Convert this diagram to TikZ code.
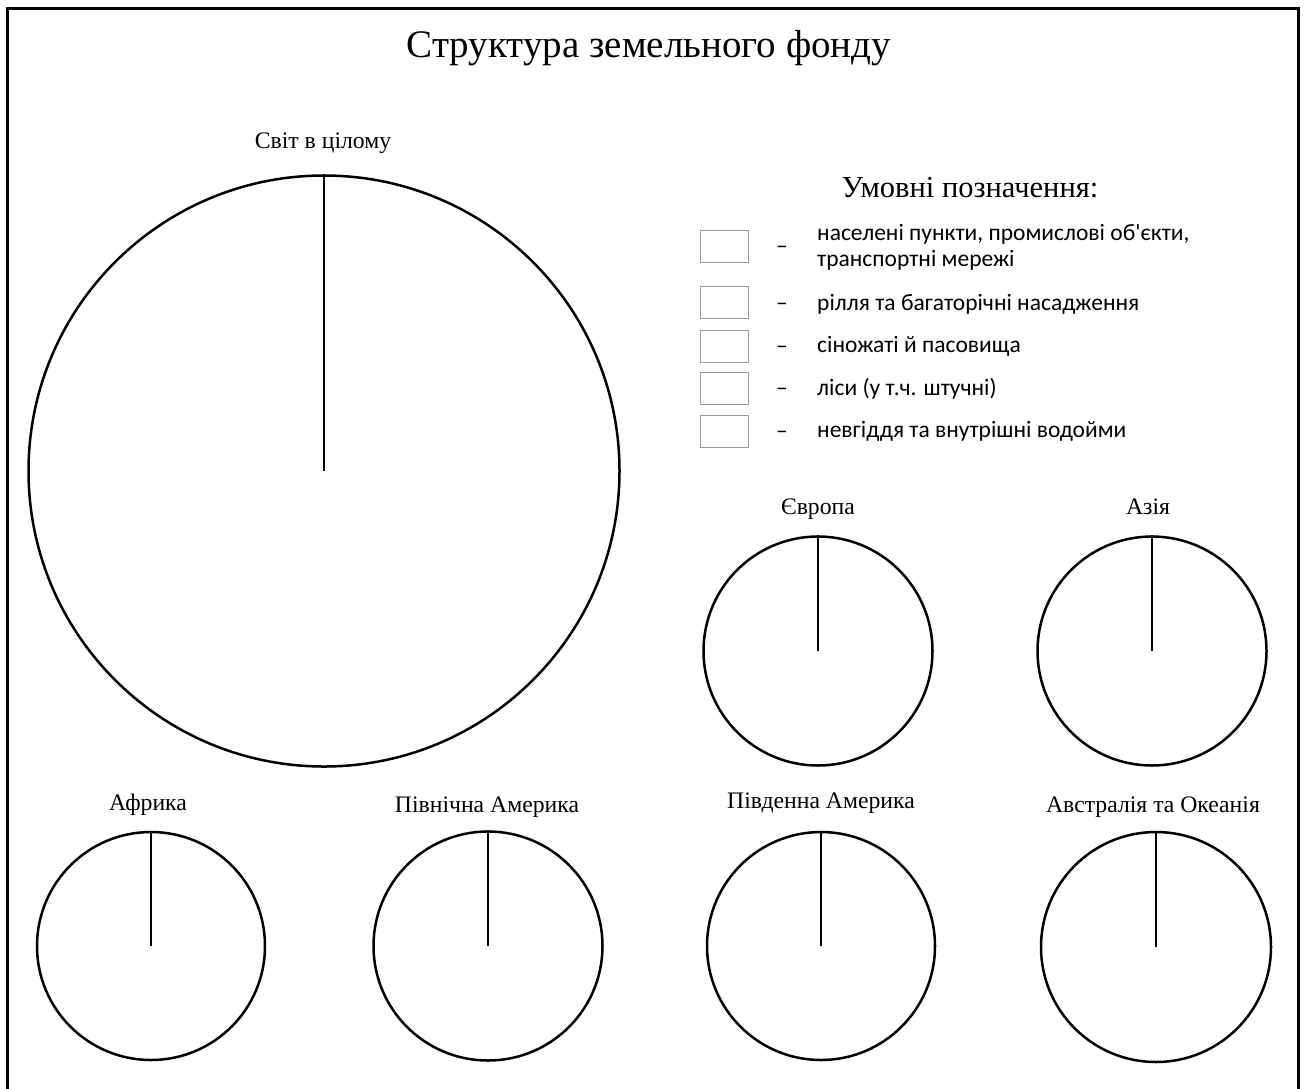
\documentclass[tikz,border=0pt]{standalone}
\usepackage{fontspec}
\setmainfont{Liberation Serif}
\newfontfamily\legfont{Carlito}
\begin{document}
\begin{tikzpicture}[x=1pt,y=-1pt,
  pie/.style={circle,draw,line width=2.5pt,inner sep=0pt,minimum size=#1},
  radius line/.style={line width=2.5pt},
  lab/.style={anchor=base,inner sep=0pt,font=\fontsize{23.7}{26}\selectfont},
  legbox/.style={draw=black!40,line width=1pt,minimum width=48pt,minimum height=32pt,inner sep=0pt},
  legdash/.style={anchor=base,inner sep=0pt,font=\legfont\fontsize{23.5}{26}\selectfont},
  legtext/.style={anchor=base west,inner sep=0pt,font=\legfont\fontsize{23.5}{26}\selectfont}]
\useasboundingbox (0,0) rectangle (1305,1088);
\clip (0,0) rectangle (1305,1088);
\draw[line width=3pt] (7,1100) -- (7,8) -- (1298,8) -- (1298,1100);
% title
\node[anchor=base,inner sep=0pt,font=\fontsize{39}{42}\selectfont] (title) at (649,57) {Структура земельного фонду};
% world
\node[pie=591pt] (world) at (324,471) {};
\draw[radius line] (world.center) -- (world.north);
\node[lab] (worldlab) at (323,148) {Світ в цілому};
% legend
\node[anchor=base,inner sep=0pt,font=\fontsize{30.5}{33}\selectfont] (legtitle) at (970,197) {Умовні позначення:};
\node[legbox] (b1) at (724,246.5) {};
\node[legbox] (b2) at (724,302) {};
\node[legbox] (b3) at (724,346) {};
\node[legbox] (b4) at (724,388.5) {};
\node[legbox] (b5) at (724,431) {};
\node[legdash] (d1) at (782,253) {–};
\node[legdash] (d2) at (782,310) {–};
\node[legdash] (d3) at (782,353) {–};
\node[legdash] (d4) at (782,395) {–};
\node[legdash] (d5) at (782,438) {–};
\node[legtext] (t1a) at (817,240) {населені пункти, промислові об'єкти,};
\node[legtext] (t1b) at (817,266) {транспортні мережі};
\node[legtext] (t2) at (817,310) {рілля та багаторічні насадження};
\node[legtext] (t3) at (817,352) {сіножаті й пасовища};
\node[legtext] (t4) at (817,395) {ліси (у т.ч. штучні)};
\node[legtext] (t5) at (817,437) {невгіддя та внутрішні водойми};
% Europe, Asia
\node[pie=229pt] (eu) at (818,651) {};
\draw[radius line] (eu.center) -- (eu.north);
\node[lab] (eulab) at (818,514) {Європа};
\node[pie=229pt] (as) at (1152,651) {};
\draw[radius line] (as.center) -- (as.north);
\node[lab] (aslab) at (1148,514) {Азія};
% bottom row
\node[pie=228pt] (af) at (151,946) {};
\draw[radius line] (af.center) -- (af.north);
\node[lab] (aflab) at (148,810) {Африка};
\node[pie=229pt] (na) at (488,946) {};
\draw[radius line] (na.center) -- (na.north);
\node[lab] (nalab) at (487,812) {Північна Америка};
\node[pie=228pt] (sa) at (821,946) {};
\draw[radius line] (sa.center) -- (sa.north);
\node[lab] (salab) at (821,808) {Південна Америка};
\node[pie=230pt] (au) at (1156,947) {};
\draw[radius line] (au.center) -- (au.north);
\node[lab] (aulab) at (1153,812) {Австралія та Океанія};
\end{tikzpicture}
\end{document}
